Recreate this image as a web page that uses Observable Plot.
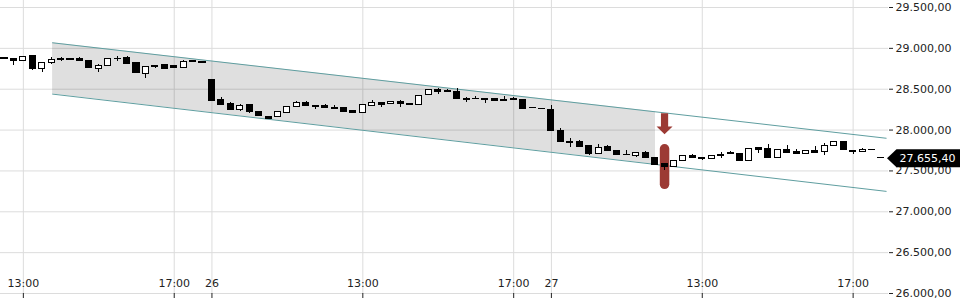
<!DOCTYPE html>
<html><head><meta charset="utf-8">
<script src="https://cdn.jsdelivr.net/npm/d3@7"></script>
<script src="https://cdn.jsdelivr.net/npm/@observablehq/plot@0.6"></script>
<style>body{margin:0;background:#fff;} svg{display:block}</style>
</head><body><div id="chart"></div>
<script>
// 15-minute candles: day 25 12:30–17:45, day 26 09:00–17:45, day 27 09:00–17:45
const open  = [28876,28872,28848,28904,28745,28823,28868,28868,28872,28848,28750,28786,28866,28876,28815,28689,28790,28802,28778,28762,28843,28828,
               28607,28362,28313,28240,28301,28227,28154,28158,28211,28285,28329,28297,28292,28276,28264,28231,28203,28297,28329,28313,28341,28325,28309,28435,28493,28480,28472,28378,28386,28378,28386,28350,28383,28362,28272,28263,
               28248,27991,27856,27852,27807,27710,27787,27750,27697,27685,27722,27661,27587,27550,27624,27677,27664,27644,27701,27714,27709,27624,27778,27771,27661,27758,27730,27709,27742,27726,27811,27848,27750,27734,27761,27661];
const high  = [28878,28875,28905,28915,28830,28884,28892,28870,28884,28850,28806,28875,28904,28900,28831,28776,28792,28804,28780,28851,28845,28830,
               28612,28399,28341,28317,28303,28229,28156,28229,28282,28346,28353,28299,28309,28297,28266,28233,28306,28362,28331,28350,28366,28327,28417,28495,28505,28493,28505,28402,28407,28380,28388,28415,28402,28364,28274,28265,
               28301,28015,27893,27872,27809,27820,27807,27752,27750,27719,27738,27663,27590,27626,27690,27701,27666,27687,27726,27738,27711,27768,27780,27823,27764,27807,27758,27740,27803,27832,27854,27864,27752,27778,27763,27663];
const low   = [28864,28790,28845,28735,28700,28802,28843,28857,28843,28755,28708,28784,28843,28804,28700,28635,28757,28750,28748,28760,28831,28816,
               28348,28305,28238,28224,28207,28174,28130,28156,28209,28283,28295,28256,28270,28258,28225,28201,28201,28295,28280,28311,28276,28299,28307,28433,28432,28462,28381,28341,28376,28329,28353,28348,28360,28258,28262,28253,
               27984,27850,27790,27793,27689,27708,27740,27688,27688,27668,27659,27565,27505,27548,27622,27656,27628,27642,27656,27700,27617,27622,27717,27659,27659,27720,27710,27707,27712,27693,27809,27760,27701,27732,27751,27649];
const close = [28867,28843,28900,28745,28823,28860,28860,28859,28845,28757,28790,28872,28874,28806,28701,28774,28770,28752,28755,28839,28834,28819,
               28350,28310,28240,28289,28224,28176,28135,28227,28280,28329,28297,28282,28273,28261,28227,28203,28304,28333,28301,28346,28317,28301,28415,28493,28460,28465,28383,28369,28377,28370,28355,28374,28362,28260,28264,28256,
               27986,27852,27847,27795,27710,27778,27742,27690,27689,27717,27661,27567,27546,27624,27677,27658,27645,27685,27678,27705,27619,27766,27754,27661,27762,27722,27712,27738,27714,27807,27852,27762,27730,27758,27753,27655.4];

const xTickBars   = [2, 18, 22, 38, 54, 58, 74, 90];
const xTickLabels = ["13:00", "17:00", "26", "13:00", "17:00", "27", "13:00", "17:00"];
const yTicks      = [26000, 26500, 27000, 27500, 28000, 28500, 29000, 29500];

// trend channel (bar index, price)
const channelBars  = [5.1, 93.5];
const channelUpper = [29068, 27900];
const channelLower = [28440, 27250];
const bandBars     = [5.1, 69.04];

// signal annotations
const signalBar     = 70;
const arrowPrice    = 28080;
const capsuleRange  = [27330, 27765];

const xDomain = [-0.424, 93.75];
const fmtDE = d3.formatLocale({decimal: ",", thousands: ".", grouping: [3], currency: ["", ""]}).format(",.2f");

const candles = open.map((o, i) => ({i, o, h: high[i], l: low[i], c: close[i]}));
const lineAt = (arr, b) => arr[0] + (arr[1] - arr[0]) * (b - channelBars[0]) / (channelBars[1] - channelBars[0]);
const band = bandBars.map(b => ({b, lo: lineAt(channelLower, b), hi: lineAt(channelUpper, b)}));
const upperLine = channelBars.map((b, k) => ({b, p: channelUpper[k]}));
const lowerLine = channelBars.map((b, k) => ({b, p: channelLower[k]}));
const last = close[close.length - 1];

const arrowSymbol = {draw(ctx) {
  ctx.moveTo(-3.6, -10.3); ctx.lineTo(3.6, -10.3); ctx.lineTo(3.6, 3);
  ctx.lineTo(8, 3); ctx.lineTo(0, 10.7); ctx.lineTo(-8, 3); ctx.lineTo(-3.6, 3); ctx.closePath();
}};
const tagSymbol = {draw(ctx) {
  ctx.moveTo(-1.5, 0); ctx.lineTo(8, -9); ctx.lineTo(74, -9); ctx.lineTo(74, 9); ctx.lineTo(8, 9); ctx.closePath();
}};
const red = "#9c3a34";
const teal = "#5f9ea0";

const chart = Plot.plot({
  width: 960, height: 300,
  marginLeft: 0, marginRight: 72, marginTop: 7, marginBottom: 7,
  x: {domain: xDomain, axis: null},
  y: {domain: [26000, 29500], axis: null},
  style: {fontFamily: "DejaVu Sans", fontSize: "11px", background: "white", color: "#222"},
  marks: [
    Plot.gridY(yTicks, {stroke: "#dcdcdc", strokeOpacity: 1}),
    Plot.ruleX(xTickBars, {x: d => d, stroke: "#dcdcdc", insetTop: -7}),
    Plot.areaY(band, {x: "b", y1: "lo", y2: "hi", fill: "#000", fillOpacity: 0.125}),
    Plot.line(upperLine, {x: "b", y: "p", stroke: teal, strokeWidth: 1}),
    Plot.line(lowerLine, {x: "b", y: "p", stroke: teal, strokeWidth: 1}),
    Plot.ruleX([signalBar], {x: d => d, y1: capsuleRange[0], y2: capsuleRange[1], stroke: red, strokeWidth: 9.5, strokeLinecap: "round"}),
    Plot.dot([{b: signalBar, p: arrowPrice}], {x: "b", y: "p", symbol: arrowSymbol, fill: red, stroke: "none"}),
    Plot.ruleX(candles, {x: "i", y1: "l", y2: "h", stroke: "black", strokeWidth: 1, shapeRendering: "crispEdges"}),
    Plot.rect(candles, {x1: d => d.i - 0.32, x2: d => d.i + 0.32, y1: "o", y2: "c",
      fill: d => d.c >= d.o ? "white" : "black", stroke: "black", strokeWidth: 1, shapeRendering: "crispEdges"}),
    Plot.axisY({anchor: "right", ticks: yTicks, tickFormat: fmtDE, tickSize: 4, tickPadding: 3, label: null}),
    Plot.axisX({anchor: "bottom", ticks: xTickBars, tickFormat: () => "", tickSize: 5, label: null}),
    Plot.text(xTickBars, {x: d => d, text: (d, k) => xTickLabels[k], frameAnchor: "bottom", dy: -7, fill: "#222"}),
    Plot.dot([{x: xDomain[1], y: last}], {x: "x", y: "y", symbol: tagSymbol, fill: "black", stroke: "none"}),
    Plot.text([{x: xDomain[1], y: last}], {x: "x", y: "y", text: d => fmtDE(d.y), dx: 11, textAnchor: "start", fill: "white", fontSize: 11})
  ]
});
document.getElementById("chart").appendChild(chart);
</script></body></html>
